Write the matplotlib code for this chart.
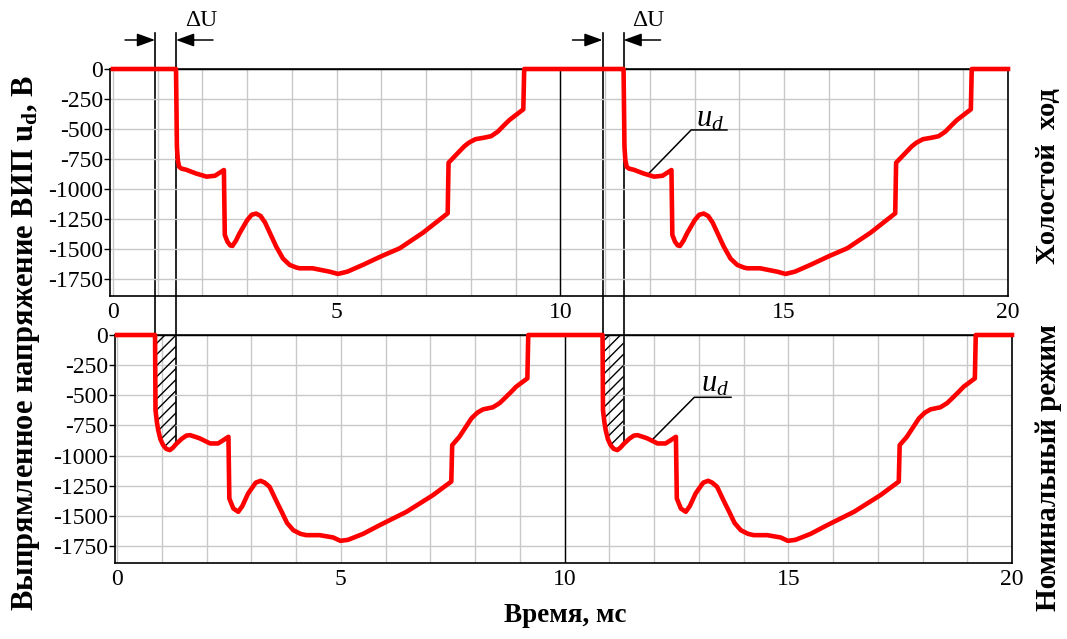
import numpy as np
import matplotlib
matplotlib.use("Agg")
import matplotlib.pyplot as plt
from matplotlib.lines import Line2D
from matplotlib.patches import FancyArrowPatch

plt.rcParams["font.family"] = ["Liberation Serif", "DejaVu Serif"]
plt.rcParams["mathtext.fontset"] = "custom"
plt.rcParams["mathtext.rm"] = "Liberation Serif"
plt.rcParams["mathtext.it"] = "Liberation Serif:italic"
plt.rcParams["mathtext.bf"] = "Liberation Serif:bold"
plt.rcParams["axes.unicode_minus"] = False

# one period (10 ms) of u_d, idle mode (top) - time in ms, voltage in V
T_IDLE = [0, 1.41, 1.43, 1.45, 1.48, 1.53, 1.64, 1.85, 2.09, 2.28, 2.48, 2.50,
          2.56, 2.62, 2.67, 2.75, 2.83, 3.0, 3.1, 3.2, 3.3, 3.4, 3.65, 3.8,
          3.95, 4.1, 4.17, 4.46, 4.84, 5.03, 5.24, 5.6, 6.0, 6.41, 6.93, 7.48,
          7.50, 7.7, 7.85, 7.95, 8.1, 8.3, 8.45, 8.6, 8.75, 8.86, 9.0, 9.17,
          9.19, 10]
V_IDLE = [0, 0, -647, -760, -815, -830, -840, -870, -897, -890, -842, -1383,
          -1440, -1470, -1475, -1430, -1369, -1260, -1215, -1205, -1225, -1280,
          -1481, -1580, -1633, -1655, -1661, -1661, -1689, -1708, -1689, -1630,
          -1560, -1494, -1364, -1203, -781, -703, -645, -615, -585, -572, -560,
          -522, -465, -425, -385, -336, 0, 0]

# one period of u_d, nominal mode (bottom)
T_NOM = [0, 0.85, 0.86, 0.89, 0.92, 0.97, 1.03, 1.10, 1.18, 1.25, 1.32, 1.45,
         1.55, 1.63, 1.75, 1.85, 2.08, 2.26, 2.49, 2.51, 2.60, 2.71, 2.80, 2.93,
         3.10, 3.21, 3.30, 3.41, 3.55, 3.68, 3.80, 3.94, 4.10, 4.23, 4.53, 4.83,
         4.99, 5.16, 5.5, 5.87, 6.47, 7.06, 7.47, 7.49, 7.65, 7.8, 7.92, 8.05,
         8.18, 8.4, 8.55, 8.66, 8.8, 8.92, 9.17, 9.19, 10]
V_NOM = [0, 0, -623, -720, -789, -865, -913, -945, -955, -935, -905, -860,
         -835, -831, -845, -858, -900, -900, -845, -1357, -1440, -1467, -1420,
         -1315, -1225, -1210, -1225, -1260, -1370, -1467, -1560, -1620, -1650,
         -1661, -1661, -1680, -1708, -1700, -1650, -1578, -1467, -1329, -1216,
         -914, -845, -760, -692, -645, -617, -600, -565, -526, -475, -429, -360,
         0, 0]

PERIOD = 10
HATCH_END = 1.32          # right edge of the delay area, ms
X_TICKS = [0, 5, 10, 15, 20]
Y_TICKS = [0, -250, -500, -750, -1000, -1250, -1500, -1750]

W, H = 1067, 639
fig = plt.figure(figsize=(W / 100, H / 100), dpi=100)
ax_top = fig.add_axes([110 / W, 1 - 296 / H, 898 / W, 227 / H])
ax_bot = fig.add_axes([115 / W, 1 - 563 / H, 897 / W, 228 / H])


def style(ax, x0):
    ax.set_facecolor("none")
    ax.set_xlim(x0, 20)
    ax.set_ylim(-1892, 0)
    ax.set_xticks(X_TICKS)
    ax.set_xticks(np.arange(0, 21), minor=True)
    ax.set_yticks(Y_TICKS)
    ax.grid(True, which="both", color="#c8c8c8", lw=1.0, zorder=0)
    ax.tick_params(axis="x", which="both", length=0, pad=4, labelsize=17)
    ax.tick_params(axis="y", length=4, width=1, color="black", pad=1, labelsize=17)
    ax.axvline(10, color="black", lw=1.0, zorder=2)
    ax.axhline(0, color="black", lw=1.0, zorder=2)
    for s in ax.spines.values():
        s.set_linewidth(1.2)


style(ax_top, -0.065)
style(ax_bot, -0.045)

t_idle = np.concatenate([T_IDLE, np.array(T_IDLE) + PERIOD])
v_idle = np.concatenate([V_IDLE, V_IDLE])
t_nom = np.concatenate([T_NOM, np.array(T_NOM) + PERIOD])
v_nom = np.concatenate([V_NOM, V_NOM])

ax_top.plot(t_idle, v_idle, color="#ff0000", lw=3.3, clip_on=False, zorder=5)
ax_bot.plot(t_nom, v_nom, color="#ff0000", lw=3.3, clip_on=False, zorder=5)

# hatched delay area in nominal mode
for k in (0, PERIOD):
    mask = (t_nom >= T_NOM[1] + k) & (t_nom <= HATCH_END + k)
    ax_bot.fill_between(t_nom, v_nom, 0, where=mask, facecolor="none",
                        edgecolor="black", hatch="///", lw=0, zorder=3)

# u_d callouts
ax_top.plot([11.99, 12.92, 13.72], [-864, -508, -508], color="black", lw=1.1, zorder=4)
ax_top.text(13.35, -483, r"$u_d$", ha="center", va="baseline", fontsize=22)
ax_bot.plot([11.97, 12.9, 13.72], [-866, -517, -517], color="black", lw=1.1, zorder=4)
ax_bot.text(13.37, -473, r"$u_d$", ha="center", va="baseline", fontsize=22)

# delta U dimension lines between the panels
inv = fig.transFigure.inverted()


def to_fig(ax, x, y):
    return inv.transform(ax.transData.transform((x, y)))


y_line_top = 1 - 33 / H
y_arrow = 1 - 40 / H
v_end = V_NOM[T_NOM.index(HATCH_END)]
for k in (0, PERIOD):
    xl, yl = to_fig(ax_bot, T_NOM[1] + k, 0)
    xr = to_fig(ax_top, T_IDLE[1] + k, 0)[0]
    yr = to_fig(ax_bot, HATCH_END + k, v_end)[1]
    fig.add_artist(Line2D([xl, xl], [y_line_top, yl], color="black", lw=1.2, zorder=-1))
    fig.add_artist(Line2D([xr, xr], [y_line_top, yr], color="black", lw=1.2, zorder=-1))
    for x0, x1 in ((xl - 30 / W, xl), (xr + 37 / W, xr)):
        fig.add_artist(FancyArrowPatch((x0, y_arrow), (x1, y_arrow),
                                       transform=fig.transFigure,
                                       arrowstyle="-|>,head_length=0.55,head_width=0.2",
                                       mutation_scale=20, color="black", lw=1.1,
                                       shrinkA=0, shrinkB=0))
    fig.text(xr + 25 / W, 1 - 20 / H, "ΔU", ha="center", va="center", fontsize=17)

fig.text(26 / W, 1 - 343 / H, r"Выпрямленное напряжение ВИП u$_{\mathbf{d}}$, В",
         rotation=90, ha="center", va="center", fontsize=22, fontweight="bold")
fig.text(565 / W, 1 - 615 / H, "Время, мс", ha="center", va="center",
         fontsize=19.5, fontweight="bold")
fig.text(1048 / W, 1 - 176 / H, "Холостой  ход", rotation=90, ha="center",
         va="center", fontsize=20.5, fontweight="bold")
fig.text(1048 / W, 1 - 468 / H, "Номинальный режим", rotation=90, ha="center",
         va="center", fontsize=21, fontweight="bold")

fig.savefig("out.png", dpi=100)
